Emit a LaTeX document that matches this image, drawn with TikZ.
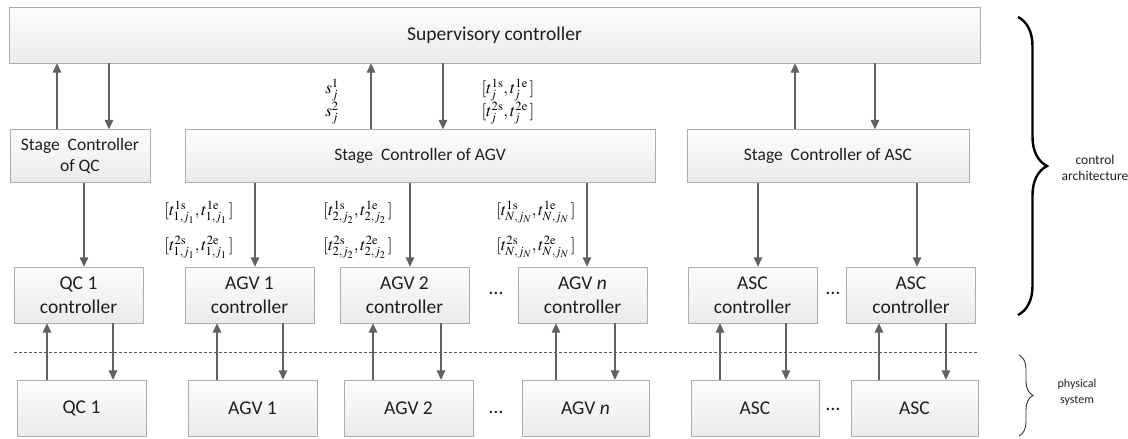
\documentclass[tikz,border=0pt]{standalone}
\usepackage{mathptmx}
\usepackage[no-math]{fontspec}
\setmainfont{Carlito}
\usetikzlibrary{arrows.meta,decorations.pathreplacing}
\newcommand{\tlab}[2]{$[t^{\mathrm{#1s}}_{#2},t^{\mathrm{#1e}}_{#2}\,]$}
\begin{document}
\begin{tikzpicture}[x=1pt,y=-1pt,
  box/.style={draw=black!32, top color=black!1, bottom color=black!8, inner sep=0pt, text=black!88, align=center},
  ctrlbox/.style={box, minimum width=129pt, minimum height=56pt, font=\fontsize{19.5}{24}\selectfont},
  stagebox/.style={box, minimum height=53pt, font=\fontsize{17.5}{21}\selectfont},
  arr/.style={draw=black!62, line width=1.4pt, -{Triangle[width=8.5pt,length=9.5pt]}},
  lab/.style={inner sep=0pt, font=\fontsize{17}{21}\selectfont},
  dotsnode/.style={inner sep=0pt, font=\fontsize{20}{24}\selectfont, text=black!88},
  bracelab/.style={inner sep=0pt, align=center, text=black!88}
]
\useasboundingbox (0,0) rectangle (1128,439);

% top
\node[box, minimum width=971pt, minimum height=56pt, font=\fontsize{19.5}{24}\selectfont] (sup) at (494.5,35) {Supervisory controller};

% stage controllers
\node[stagebox, minimum width=140pt] (qcs) at (80,156) {Stage\ \ Controller\\of QC};
\node[stagebox, minimum width=470pt] (agvs) at (420,156) {Stage\ \ Controller of AGV};
\node[stagebox, minimum width=282pt] (ascs) at (828,156) {Stage\ \ Controller of ASC};

% local controllers
\node[ctrlbox] (qc1c) at (78.5,295) {QC 1\\controller};
\node[ctrlbox] (agv1c) at (249.5,295) {AGV 1\\controller};
\node[ctrlbox] (agv2c) at (404.5,295) {AGV 2\\controller};
\node[ctrlbox] (agvnc) at (582.5,295) {AGV \textit{n}\\controller};
\node[ctrlbox] (asc1c) at (752.5,295) {ASC\\controller};
\node[ctrlbox] (asc2c) at (911,295) {ASC\\controller};

% physical
\node[ctrlbox] (qc1) at (81.5,408) {QC 1};
\node[ctrlbox] (agv1) at (252.5,408) {AGV 1};
\node[ctrlbox] (agv2) at (408.5,408) {AGV 2};
\node[ctrlbox, minimum width=127pt] (agvn) at (585.5,408) {AGV \textit{n}};
\node[ctrlbox, minimum width=128pt] (asc1) at (755,408) {ASC};
\node[ctrlbox, minimum width=127pt] (asc2) at (914.5,408) {ASC};

% dots
\node[dotsnode] (dc1) at (496,293) {…};
\node[dotsnode] (dc2) at (833,293) {…};
\node[dotsnode] (dp1) at (496,412) {…};
\node[dotsnode] (dp2) at (833,409) {…};

% supervisory <-> stage
\draw[arr] (qcs.north -| 57,0) -- (sup.south -| 57,0);
\draw[arr] (sup.south -| 109,0) -- (qcs.north -| 109,0);
\draw[arr] (agvs.north -| 371,0) -- (sup.south -| 371,0);
\draw[arr] (sup.south -| 443,0) -- (agvs.north -| 443,0);
\draw[arr] (ascs.north -| 795,0) -- (sup.south -| 795,0);
\draw[arr] (sup.south -| 875,0) -- (ascs.north -| 875,0);

% stage -> local
\draw[arr] (qcs.south -| 84,0) -- (qc1c.north -| 84,0);
\draw[arr] (agvs.south -| 255,0) -- (agv1c.north -| 255,0);
\draw[arr] (agvs.south -| 410,0) -- (agv2c.north -| 410,0);
\draw[arr] (agvs.south -| 587,0) -- (agvnc.north -| 587,0);
\draw[arr] (ascs.south -| 758,0) -- (asc1c.north -| 758,0);
\draw[arr] (ascs.south -| 917,0) -- (asc2c.north -| 917,0);

% local <-> physical
\foreach \p/\c/\u/\d in {qc1/qc1c/47/113, agv1/agv1c/217/283, agv2/agv2c/373/441, agvn/agvnc/556/615, asc1/asc1c/720/786, asc2/asc2c/879/946}{
  \draw[arr] (\p.north -| \u,0) -- (\c.south -| \u,0);
  \draw[arr] (\c.south -| \d,0) -- (\p.north -| \d,0);
}

% labels
\node[lab] (s1) at (332,90) {$s_j^1$};
\node[lab] (s2) at (332,113) {$s_j^2$};
\node[lab] (t1) at (508,90) {\tlab{1}{j}};
\node[lab] (t2) at (508,113) {\tlab{2}{j}};
\node[lab] (a1) at (199,212) {\tlab{1}{1,j_1}};
\node[lab] (a2) at (199,247) {\tlab{2}{1,j_1}};
\node[lab] (b1) at (358,212) {\tlab{1}{2,j_2}};
\node[lab] (b2) at (358,247) {\tlab{2}{2,j_2}};
\node[lab] (c1) at (536,212) {\tlab{1}{N,j_N}};
\node[lab] (c2) at (536,247) {\tlab{2}{N,j_N}};

% dashed separator
\coordinate (dl) at (14,352);
\coordinate (dr) at (979,352);
\draw[black!65, line width=1pt, dash pattern=on 3pt off 2pt] (dl) -- (dr);

% braces
\coordinate (cbt) at (1018,17);
\coordinate (cbb) at (1018,315);
\draw[line width=2.4pt, decorate, decoration={brace, amplitude=29pt}] (cbt) -- (cbb);
\node[bracelab, font=\fontsize{13.5}{16}\selectfont] (cal) at (1095,168) {control\\architecture};

\coordinate (pbt) at (1019,355);
\coordinate (pbb) at (1019,436);
\draw[line width=0.9pt, black!80, decorate, decoration={brace, amplitude=14pt}] (pbt) -- (pbb);
\node[bracelab, font=\fontsize{12}{16}\selectfont] (psl) at (1077,392) {physical\\system};
\end{tikzpicture}
\end{document}
